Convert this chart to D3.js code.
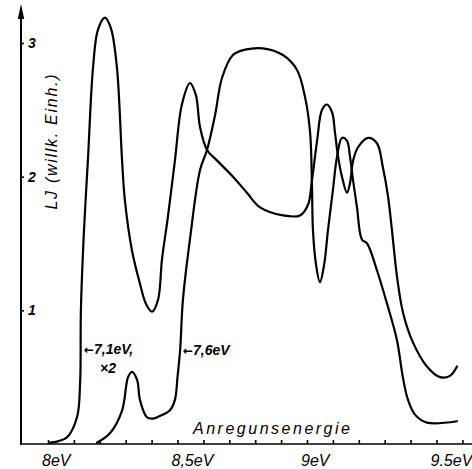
<!DOCTYPE html>
<html>
<head>
<meta charset="utf-8">
<title>Anregungsspektren</title>
<script src="https://cdn.jsdelivr.net/npm/d3@7"></script>
<style>
body{margin:0;background:#fff}
text{font-family:"Liberation Sans",Arial,sans-serif;font-style:italic;fill:#000}
.curve{fill:none;stroke:#000;stroke-width:2.2;stroke-linejoin:round;stroke-linecap:round}
.tick line{stroke:#000;stroke-width:1.6}
.arrow{font-family:"DejaVu Sans";font-style:normal}
</style>
</head>
<body>
<svg id=chart width=472 height=469></svg>
<script>
// excitation 7,1 eV (x2)
var energy71=[8.008,8.073,8.112,8.124,8.127,8.139,8.154,8.174,8.193,8.220,8.243,8.266,8.286,8.297,8.324,8.355,8.378,8.402,8.425,8.440,8.463,8.490,8.517,8.548,8.571,8.587,8.614,8.653,8.714,8.768,8.819,8.907,8.973,9.004,9.019,9.039,9.058,9.077,9.097,9.108,9.120,9.135,9.154,9.166,9.178,9.197,9.236,9.270,9.293,9.313,9.328,9.347,9.371,9.409,9.463,9.514,9.552,9.579]
var value71=[0.01,0.05,0.20,0.46,1.00,1.60,2.12,2.82,3.10,3.19,3.11,2.82,2.12,1.82,1.45,1.20,1.05,0.99,1.08,1.38,1.70,2.12,2.54,2.70,2.61,2.37,2.20,2.12,2.00,1.88,1.77,1.71,1.71,1.79,1.97,2.27,2.50,2.54,2.48,2.33,2.15,2.00,1.88,1.95,2.12,2.22,2.29,2.25,2.07,1.85,1.60,1.26,0.98,0.76,0.58,0.50,0.51,0.58]
// excitation 7,6 eV
var energy76=[8.189,8.239,8.286,8.309,8.324,8.344,8.355,8.382,8.405,8.432,8.470,8.490,8.500,8.510,8.521,8.548,8.587,8.614,8.645,8.672,8.714,8.761,8.830,8.907,8.961,8.992,9.012,9.019,9.023,9.035,9.050,9.066,9.081,9.100,9.116,9.135,9.154,9.166,9.178,9.193,9.212,9.232,9.270,9.309,9.347,9.371,9.390,9.417,9.463,9.579]
var value76=[0.01,0.08,0.25,0.50,0.54,0.48,0.33,0.20,0.19,0.21,0.25,0.33,0.50,0.70,1.08,1.53,2.05,2.20,2.46,2.74,2.91,2.95,2.96,2.91,2.80,2.60,2.33,1.95,1.60,1.34,1.21,1.34,1.60,1.90,2.15,2.29,2.27,2.15,1.97,1.77,1.53,1.50,1.30,1.05,0.78,0.49,0.33,0.22,0.16,0.17]

var xTickValues=[8.0,8.1,8.2,8.3,8.4,8.5,8.6,8.7,8.8,8.9,9.0,9.1,9.2,9.3,9.4,9.5,9.6]
var xLabelValues=[8,8.5,9,9.5]
var xLabels=["8eV","8,5eV","9eV","9.5eV"]
var yTickValues=[1,2,3]
var yLabels=["1","2","3"]

var svg=d3.select("#chart")
var x=d3.scaleLinear().domain([8,9.5]).range([48,436.5])
var y=d3.scaleLinear().domain([0,3]).range([444,43])
var axisX=21

// y axis with arrow
svg.append("line").attr("x1",axisX).attr("x2",axisX).attr("y1",y(0)+1).attr("y2",14)
   .attr("stroke","#000").attr("stroke-width",2)
svg.append("path").attr("d","M"+axisX+",4 L"+(axisX-3.2)+",19 L"+(axisX+3.2)+",19 Z").attr("fill","#000")

var yAxis=d3.axisRight(y).tickValues(yTickValues).tickSize(3).tickPadding(4)
   .tickFormat(function(d,i){return yLabels[i]})
var gy=svg.append("g").attr("transform","translate("+axisX+",0)").call(yAxis)
gy.select(".domain").remove()
gy.selectAll("text").attr("font-size",14).attr("font-weight","bold").style("font-family","Liberation Sans")

// x axis
svg.append("line").attr("x1",axisX).attr("x2",472).attr("y1",y(0)).attr("y2",y(0))
   .attr("stroke","#000").attr("stroke-width",1.6)
var xAxis=d3.axisBottom(x).tickValues(xTickValues).tickSize(-4).tickFormat("")
var gx=svg.append("g").attr("transform","translate(0,"+y(0)+")").call(xAxis)
gx.select(".domain").remove()

svg.selectAll(".xlab").data(xLabelValues).enter().append("text")
   .attr("class","xlab")
   .attr("x",function(d){return x(d)-6})
   .attr("y",466)
   .attr("font-size",16)
   .text(function(d,i){return xLabels[i]})

// axis titles
svg.append("text").attr("x",193).attr("y",434).attr("font-size",16)
   .attr("textLength",157).attr("lengthAdjust","spacing")
   .text("Anregunsenergie")
svg.append("text").attr("transform","translate(57,142) rotate(-90)")
   .attr("text-anchor","middle").attr("font-size",16)
   .attr("textLength",135).attr("lengthAdjust","spacing")
   .text("LJ (willk. Einh.)")

// curves
var line=d3.line()
   .x(function(d){return x(d[0])})
   .y(function(d){return y(d[1])})
   .curve(d3.curveCatmullRom.alpha(0.5))

svg.append("path").attr("class","curve").attr("d",line(d3.zip(energy71,value71)))
svg.append("path").attr("class","curve").attr("d",line(d3.zip(energy76,value76)))

// annotations
var a1=svg.append("text").attr("x",84).attr("y",354).attr("font-size",14).attr("font-weight","bold")
a1.append("tspan").attr("class","arrow").attr("font-size",12).text("\u2190")
a1.append("tspan").text("7,1eV,")
svg.append("text").attr("x",100).attr("y",373).attr("font-size",14).attr("font-weight","bold")
   .text("\u00d72")
var a2=svg.append("text").attr("x",183).attr("y",355).attr("font-size",14).attr("font-weight","bold")
a2.append("tspan").attr("class","arrow").attr("font-size",12).text("\u2190")
a2.append("tspan").text("7,6eV")
</script>
</body>
</html>
